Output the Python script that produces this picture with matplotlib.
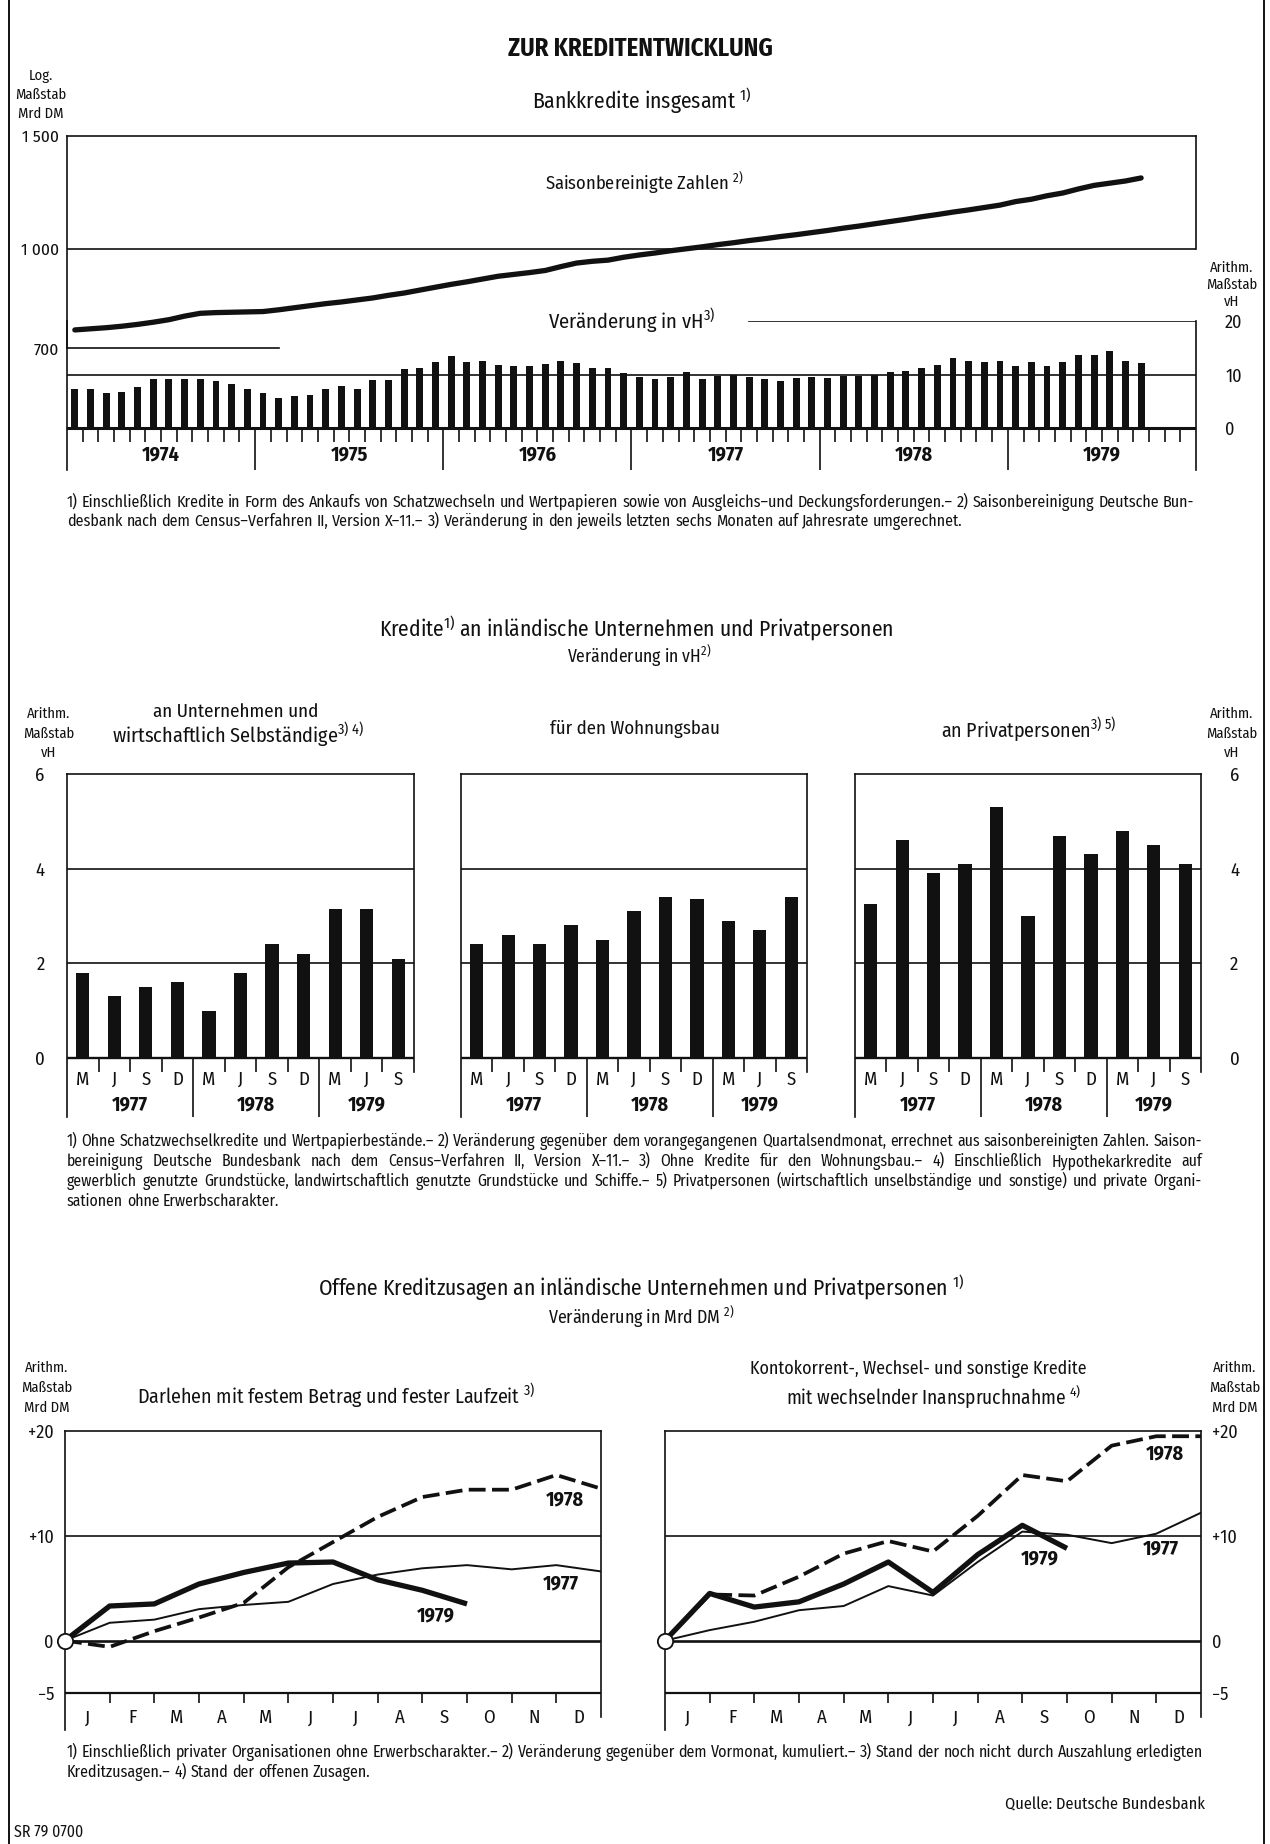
import numpy as np
import matplotlib
matplotlib.use('Agg')
import matplotlib.pyplot as plt
from matplotlib.lines import Line2D
from matplotlib.ticker import NullLocator

NARROW = ['Fira Sans Condensed', 'Roboto Condensed', 'PT Sans Narrow', 'DejaVu Sans']
plt.rcParams['font.family'] = NARROW
plt.rcParams['mathtext.fontset'] = 'custom'
plt.rcParams['mathtext.rm'] = 'Fira Sans Condensed'
plt.rcParams['mathtext.it'] = 'Fira Sans Condensed'
plt.rcParams['mathtext.bf'] = 'Fira Sans Condensed:bold'

W, H = 1270, 1844
INK = '#111111'

# Bankkredite insgesamt, Mrd DM, saisonbereinigt, Jan 1974 - Sep 1979
bank_years = ['1974', '1975', '1976', '1977', '1978', '1979']
bank_credit = [
    747, 750, 753, 757, 762, 768, 775, 785, 793, 795, 796, 797,
    798, 803, 809, 815, 821, 826, 832, 838, 846, 853, 862, 871,
    880, 888, 897, 906, 912, 918, 925, 938, 950, 956, 960, 970,
    978, 985, 993, 1000, 1007, 1015, 1022, 1030, 1037, 1045, 1052, 1060,
    1068, 1077, 1085, 1094, 1103, 1112, 1122, 1131, 1141, 1150, 1160, 1170,
    1185, 1195, 1210, 1222, 1240, 1256, 1266, 1276, 1290,
]
# Veraenderung in vH (letzte sechs Monate, Jahresrate)
bank_change = [
    7.2, 7.2, 6.6, 6.8, 7.6, 9.2, 9.2, 9.2, 9.1, 8.8, 8.2, 7.3,
    6.5, 5.7, 6.0, 6.2, 7.3, 7.8, 7.3, 9.0, 8.9, 11.0, 11.2, 12.4,
    13.4, 12.3, 12.5, 11.8, 11.5, 11.5, 12.0, 12.5, 12.2, 11.3, 11.2, 10.3,
    9.5, 9.1, 9.5, 10.4, 9.2, 9.7, 10.0, 9.5, 9.2, 8.8, 9.4, 9.5,
    9.3, 9.7, 9.7, 9.9, 10.4, 10.6, 11.3, 11.7, 13.1, 12.5, 12.4, 12.5,
    11.5, 12.4, 11.6, 12.4, 13.6, 13.6, 14.4, 12.6, 12.2,
]

# Kredite an inlaendische Unternehmen und Privatpersonen, vH gegen Vorquartal
quarter_labels = ['M', 'J', 'S', 'D', 'M', 'J', 'S', 'D', 'M', 'J', 'S']
quarter_years = ['1977', '1978', '1979']
credit_business = [1.8, 1.3, 1.5, 1.6, 1.0, 1.8, 2.4, 2.2, 3.15, 3.15, 2.1]
credit_housing = [2.4, 2.6, 2.4, 2.8, 2.5, 3.1, 3.4, 3.35, 2.9, 2.7, 3.4]
credit_private = [3.25, 4.6, 3.9, 4.1, 5.3, 3.0, 4.7, 4.3, 4.8, 4.5, 4.1]

# Offene Kreditzusagen, Mrd DM kumuliert seit Jahresbeginn (Monatsende)
month_labels = ['J', 'F', 'M', 'A', 'M', 'J', 'J', 'A', 'S', 'O', 'N', 'D']
fixed_1977 = [0, 1.7, 2.0, 3.0, 3.4, 3.7, 5.4, 6.3, 6.9, 7.2, 6.8, 7.2, 6.6]
fixed_1978 = [0, -0.6, 0.9, 2.2, 3.6, 7.0, 9.4, 11.8, 13.7, 14.4, 14.4, 15.8, 14.5]
fixed_1979 = [0, 3.3, 3.5, 5.4, 6.5, 7.4, 7.5, 5.8, 4.8, 3.5]
current_1977 = [0, 1.0, 1.8, 2.9, 3.3, 5.2, 4.3, 7.5, 10.4, 10.1, 9.3, 10.2, 12.2]
current_1978 = [0, 4.4, 4.3, 6.1, 8.3, 9.5, 8.5, 11.9, 15.8, 15.2, 18.6, 19.5, 19.5]
current_1979 = [0, 4.5, 3.2, 3.7, 5.4, 7.5, 4.6, 8.2, 11.0, 8.8]

fig = plt.figure(figsize=(W / 100, H / 100), dpi=100)
renderer = fig.canvas.get_renderer()


def axes_px(x0, y0, x1, y1):
    ax = fig.add_axes([x0 / W, 1 - y1 / H, (x1 - x0) / W, (y1 - y0) / H])
    ax.set_facecolor('none')
    for s in ax.spines.values():
        s.set_color(INK)
        s.set_linewidth(1.2)
    return ax


def text_px(x, y, s, size=11, width=None, ha='center', **kw):
    t = fig.text(x / W, 1 - y / H, s, fontsize=size, ha=ha, va='center',
                 color=INK, **kw)
    if width:
        w = t.get_window_extent(renderer).width
        t.set_fontsize(size * width / w)
    return t


def stack_px(x, ys, lines, size=10.5):
    for y, s in zip(ys, lines):
        text_px(x, y, s, size)


def footnote(lines, x0, x1, y0, size=11.5, step=20):
    # justified paragraph: words share one baseline, gaps stretched per line
    rows = []
    for i, line in enumerate(lines):
        y = 1 - (y0 + 5 + i * step) / H
        rows.append([fig.text(x0 / W, y, w, fontsize=size, ha='left',
                              va='baseline', color=INK) for w in line.split(' ')])
    space = 0.24 * size * 100 / 72
    natural = max(sum(t.get_window_extent(renderer).width for t in r) +
                  space * (len(r) - 1) for r in rows[:-1])
    if natural > x1 - x0:
        size = size * (x1 - x0) / natural
        space = 0.24 * size * 100 / 72
        for r in rows:
            for t in r:
                t.set_fontsize(size)
    for i, r in enumerate(rows):
        widths = [t.get_window_extent(renderer).width for t in r]
        gap = space
        if i < len(rows) - 1 and len(r) > 1:
            gap = (x1 - x0 - sum(widths)) / (len(r) - 1)
        x = x0
        for t, w in zip(r, widths):
            t.set_x(x / W)
            x += w + gap


# page frame
for xf in (9, 1264):
    fig.add_artist(Line2D([xf / W, xf / W], [0, 1], transform=fig.transFigure,
                          color=INK, lw=1.4))

# ---------------------------------------------------------------- Bankkredite
text_px(640, 49, 'ZUR KREDITENTWICKLUNG', 13, width=265, fontweight='bold')
text_px(642, 101, 'Bankkredite insgesamt $^{1)}$', 13, width=220)
text_px(644, 183, 'Saisonbereinigte Zahlen $^{2)}$', 12, width=199)
text_px(632, 321, 'Veränderung in vH$^{3)}$', 12, width=168)
stack_px(41, [76, 95, 114], ['Log.', 'Maßstab', 'Mrd DM'])
stack_px(1232, [268, 285, 302], ['Arithm.', 'Maßstab', 'vH'])

x_month = np.arange(len(bank_credit)) + 0.5

ax_lvl = axes_px(67, 136, 1196, 348)
ax_lvl.set_yscale('log')
ax_lvl.set_xlim(0, 72)
ax_lvl.set_ylim(700, 1500)
ax_lvl.plot(x_month, bank_credit, color=INK, lw=3.8, solid_capstyle='round')
ax_lvl.axhline(1000, color=INK, lw=1.2)
ax_lvl.plot([0, 13.5], [700, 700], color=INK, lw=1.2, clip_on=False)
ax_lvl.set_yticks([700, 1000, 1500], ['700', '1 000', '1 500'])
ax_lvl.yaxis.set_minor_locator(NullLocator())
ax_lvl.set_xticks([])
ax_lvl.tick_params(axis='y', length=0, labelsize=12.5, pad=6, colors=INK)
ax_lvl.spines['bottom'].set_visible(False)
ax_lvl.spines['right'].set_bounds(1000, 1500)

ax_chg = axes_px(67, 321, 1196, 470)
ax_chg.set_xlim(0, 72)
ax_chg.set_ylim(-7.85, 20)
ax_chg.bar(x_month, bank_change, width=0.44, color=INK)
ax_chg.axhline(0, color=INK, lw=2.2)
ax_chg.axhline(10, color=INK, lw=1.2)
ax_chg.plot([43.5, 72], [20, 20], color=INK, lw=1.2)
edges = np.arange(1, 72)
ax_chg.vlines(edges[edges % 12 != 0], -2.6, 0, color=INK, lw=1.2)
ax_chg.vlines(np.arange(12, 72, 12), -7.85, 0, color=INK, lw=1.2)
for i, yr in enumerate(bank_years):
    ax_chg.text(12 * i + 6, -5.0, yr, ha='center', va='center', fontsize=14.5,
                fontweight='bold', color=INK)
ax_chg.set_xticks([])
ax_chg.yaxis.tick_right()
ax_chg.set_yticks([0, 10, 20])
ax_chg.tick_params(axis='y', length=0, labelsize=13, pad=21, colors=INK)
ax_chg.spines['top'].set_visible(False)
ax_chg.spines['bottom'].set_visible(False)

footnote([
    '1) Einschließlich Kredite in Form des Ankaufs von Schatzwechseln und Wertpapieren '
    'sowie von Ausgleichs–und Deckungsforderungen.– 2) Saisonbereinigung Deutsche Bun-',
    'desbank nach dem Census–Verfahren II, Version X–11.– 3) Veränderung in den jeweils '
    'letzten sechs Monaten auf Jahresrate umgerechnet.',
], 67, 1194, 502, step=19)

# ------------------------------------------------------ Kredite an Inlaender
text_px(636, 628, 'Kredite$^{1)}$ an inländische Unternehmen und Privatpersonen', 13, width=515)
text_px(639, 656, 'Veränderung in vH$^{2)}$', 10.5, width=145)
stack_px(49, [714, 734, 753], ['Arithm.', 'Maßstab', 'vH'])
stack_px(1232, [714, 734, 753], ['Arithm.', 'Maßstab', 'vH'])
text_px(236, 712, 'an Unternehmen und', 12, width=167)
text_px(238, 735, 'wirtschaftlich Selbständige$^{3)\\ 4)}$', 12, width=253)
text_px(635, 729, 'für den Wohnungsbau', 12, width=170)
text_px(1029, 729, 'an Privatpersonen$^{3)\\ 5)}$', 12, width=176)

panel_x = [(67, 414), (461, 807), (855, 1201)]
panel_data = [credit_business, credit_housing, credit_private]
q_pos = np.arange(len(quarter_labels)) + 0.5
for k, ((x0, x1), vals) in enumerate(zip(panel_x, panel_data)):
    ax = axes_px(x0, 774, x1, 1117)
    ax.set_xlim(0, 11)
    ax.set_ylim(-1.25, 6)
    ax.bar(q_pos, vals, width=0.42, color=INK)
    ax.axhline(0, color=INK, lw=1.7)
    for g in (2, 4):
        ax.axhline(g, color=INK, lw=1.2)
    ax.vlines([1, 2, 3, 5, 6, 7, 9, 10], -0.3, 0, color=INK, lw=1.2)
    ax.vlines([4, 8], -1.25, 0, color=INK, lw=1.2)
    for xq, m in zip(q_pos, quarter_labels):
        ax.text(xq, -0.46, m, ha='center', va='center', fontsize=13.5, color=INK)
    for xc, yr in zip([2, 6, 9.5], quarter_years):
        ax.text(xc, -1.0, yr, ha='center', va='center', fontsize=14.5,
                fontweight='bold', color=INK)
    ax.set_xticks([])
    ax.spines['bottom'].set_visible(False)
    ax.spines['right'].set_bounds(-0.3, 6)
    if k == 0:
        ax.set_yticks([0, 2, 4, 6])
        ax.tick_params(axis='y', length=0, labelsize=13.5, pad=16, colors=INK)
    elif k == 2:
        ax.yaxis.tick_right()
        ax.set_yticks([0, 2, 4, 6])
        ax.tick_params(axis='y', length=0, labelsize=13.5, pad=21, colors=INK)
    else:
        ax.set_yticks([])

footnote([
    '1) Ohne Schatzwechselkredite und Wertpapierbestände.– 2) Veränderung gegenüber dem '
    'vorangegangenen Quartalsendmonat, errechnet aus saisonbereinigten Zahlen. Saison-',
    'bereinigung Deutsche Bundesbank nach dem Census–Verfahren II, Version X–11.– '
    '3) Ohne Kredite für den Wohnungsbau.– 4) Einschließlich Hypothekarkredite auf',
    'gewerblich genutzte Grundstücke, landwirtschaftlich genutzte Grundstücke und '
    'Schiffe.– 5) Privatpersonen (wirtschaftlich unselbständige und sonstige) und private Organi-',
    'sationen ohne Erwerbscharakter.',
], 67, 1202, 1141)

# ------------------------------------------------------- Offene Kreditzusagen
text_px(641, 1288, 'Offene Kreditzusagen an inländische Unternehmen und Privatpersonen $^{1)}$',
        13, width=647)
text_px(641, 1317, 'Veränderung in Mrd DM $^{2)}$', 11, width=187)
stack_px(47, [1368, 1388, 1408], ['Arithm.', 'Maßstab', 'Mrd DM'])
stack_px(1235, [1368, 1388, 1408], ['Arithm.', 'Maßstab', 'Mrd DM'])
text_px(336, 1396, 'Darlehen mit festem Betrag und fester Laufzeit $^{3)}$', 12, width=399)
text_px(918, 1369, 'Kontokorrent-, Wechsel- und sonstige Kredite', 12, width=338)
text_px(934, 1396, 'mit wechselnder Inanspruchnahme $^{4)}$', 12, width=296)

line_styles = {
    '1977': dict(lw=1.4, zorder=3),
    '1978': dict(lw=2.7, dashes=(4.5, 1.7), zorder=4),
    '1979': dict(lw=3.8, zorder=5, solid_capstyle='butt'),
}
bottom_panels = [
    ((65, 601), {'1977': fixed_1977, '1978': fixed_1978, '1979': fixed_1979},
     {'1978': (11.2, 13.4), '1977': (11.1, 5.4), '1979': (8.3, 2.4)}),
    ((665, 1201), {'1977': current_1977, '1978': current_1978, '1979': current_1979},
     {'1978': (11.2, 17.8), '1977': (11.1, 8.8), '1979': (8.4, 7.8)}),
]
ytick_labels = ['−5', '0', '+10', '+20']
for k, ((x0, x1), series, tags) in enumerate(bottom_panels):
    ax = axes_px(x0, 1431, x1, 1431 + 28.5 * 10.48)
    ax.set_xlim(0, 12)
    ax.set_ylim(-8.5, 20)
    ax.axhline(10, color=INK, lw=1.2)
    ax.axhline(0, color=INK, lw=1.9)
    ax.axhline(-5, color=INK, lw=1.6)
    ax.vlines(np.arange(1, 12), -6.0, -5, color=INK, lw=1.2)
    for i, m in enumerate(month_labels):
        ax.text(i + 0.5, -7.4, m, ha='center', va='center', fontsize=13.5, color=INK)
    for yr, vals in series.items():
        ax.plot(np.arange(len(vals)), vals, color=INK, **line_styles[yr])
    for yr, (tx, ty) in tags.items():
        ax.text(tx, ty, yr, ha='center', va='center', fontsize=14.5,
                fontweight='bold', color=INK)
    ax.plot(0, 0, 'o', ms=11, mfc='white', mec=INK, mew=1.3, zorder=10, clip_on=False)
    ax.set_xticks([])
    ax.spines['bottom'].set_visible(False)
    ax.spines['right'].set_bounds(-7.3, 20)
    ax.set_yticks([-5, 0, 10, 20], ytick_labels)
    if k == 1:
        ax.yaxis.tick_right()
    ax.tick_params(axis='y', length=0, labelsize=13, pad=8, colors=INK)

footnote([
    '1) Einschließlich privater Organisationen ohne Erwerbscharakter.– 2) Veränderung '
    'gegenüber dem Vormonat, kumuliert.– 3) Stand der noch nicht durch Auszahlung erledigten',
    'Kreditzusagen.– 4) Stand der offenen Zusagen.',
], 67, 1203, 1752)

text_px(1205, 1805, 'Quelle: Deutsche Bundesbank', 11, width=199, ha='right')
text_px(14, 1832, 'SR 79 0700', 9.5, width=69, ha='left')

fig.savefig('out.png', dpi=100, facecolor='white')
